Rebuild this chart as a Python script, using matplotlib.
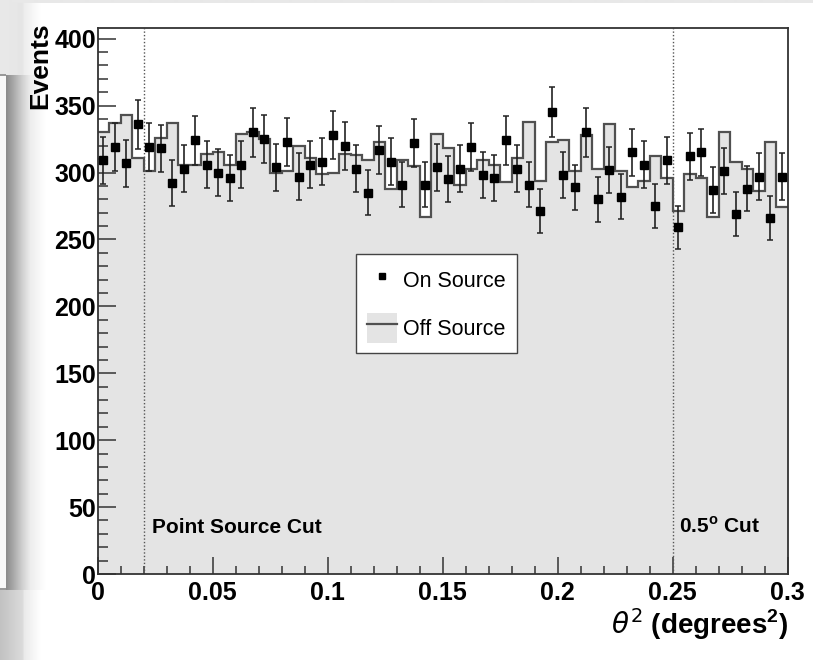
import numpy as np
import matplotlib
matplotlib.use("Agg")
import matplotlib.pyplot as plt
from matplotlib.lines import Line2D
from matplotlib.patches import Patch
from matplotlib.ticker import MultipleLocator, FixedLocator, FixedFormatter

plt.rcParams['font.family'] = ['Liberation Sans', 'DejaVu Sans']
plt.rcParams['mathtext.fontset'] = 'dejavusans'

# ---- data -------------------------------------------------------------
theta2_min = 0.0
theta2_max = 0.3
n_bins = 60

on_counts = [
    309, 319, 307, 336, 319, 318, 292, 303, 324, 306,
    300, 296, 306, 330, 325, 304, 323, 297, 306, 308,
    328, 320, 303, 285, 317, 308, 291, 322, 291, 304,
    295, 303, 319, 298, 296, 324, 303, 291, 271, 345,
    298, 289, 330, 280, 302, 282, 315, 306, 275, 309,
    259, 312, 315, 287, 301, 269, 288, 297, 266, 297,
]

off_counts = [
    330, 337, 343, 311, 301, 326, 337, 306, 306, 314,
    315, 306, 329, 330, 325, 300, 301, 320, 311, 299,
    300, 314, 313, 309, 323, 288, 309, 305, 267, 329,
    318, 291, 303, 309, 306, 293, 311, 338, 294, 323,
    324, 301, 328, 303, 336, 301, 289, 294, 312, 296,
    271, 299, 296, 267, 330, 308, 303, 286, 323, 274,
]

cut_positions = [0.02, 0.25]
cut_labels = ["Point Source Cut", "0.5$^{\\mathregular{o}}$ Cut"]

x_tick_values = [0, 0.05, 0.1, 0.15, 0.2, 0.25, 0.3]
x_tick_labels = ["0", "0.05", "0.1", "0.15", "0.2", "0.25", "0.3"]
y_tick_values = [0, 50, 100, 150, 200, 250, 300, 350, 400]
y_tick_labels = ["0", "50", "100", "150", "200", "250", "300", "350", "400"]

# ---- figure -----------------------------------------------------------
W, H = 813, 660
fig = plt.figure(figsize=(W / 100, H / 100), dpi=100)

# page background with the drop shadow along the left edge
bg = fig.add_axes([0, 0, 1, 1], zorder=-10)
bg.axis('off')
img = np.ones((H, W))
xs = np.arange(60)
mid = np.interp(xs, [0, 5.9, 6, 14, 22, 30, 45, 59], [0.97, 0.97, 0.55, 0.68, 0.82, 0.93, 1.0, 1.0])
top = np.interp(xs, [0, 22, 24, 40, 59], [0.91, 0.90, 0.93, 1.0, 1.0])
bot = np.interp(xs, [0, 22, 24, 40, 59], [0.76, 0.86, 0.92, 1.0, 1.0])
img[:75, :60] = top
img[75:590, :60] = mid
img[590:, :60] = bot
img[74:76, :6] = 0.6
img[588:590, :6] = 0.6
img[:3, :] = 0.91
bg.imshow(img, cmap='gray', vmin=0, vmax=1, extent=(0, W, H, 0), aspect='auto',
          interpolation='bilinear')
bg.set_xlim(0, W)
bg.set_ylim(H, 0)

ax = fig.add_axes([97.5 / W, 1 - 574 / H, 690 / W, 546 / H])
ax.set_xlim(theta2_min, theta2_max)
ax.set_ylim(0, 408)

edges = np.linspace(theta2_min, theta2_max, n_bins + 1)
centers = 0.5 * (edges[:-1] + edges[1:])
on = np.asarray(on_counts, dtype=float)
off = np.asarray(off_counts, dtype=float)

# off-source histogram: filled area plus outline
ax.stairs(off, edges, baseline=0, fill=True, color='#e4e4e4', zorder=1)
ax.stairs(off, edges, baseline=None, color='#505050', lw=1.6, zorder=2)

# analysis cuts
for xc in cut_positions:
    ax.axvline(xc, color='#555555', lw=1.0, ls=(0, (1, 1.5)), zorder=2.5)

# on-source points with Poisson errors
ax.errorbar(centers, on, yerr=np.sqrt(on), fmt='s', color='black', ms=6,
            ecolor='#222222', elinewidth=1.2, capsize=2.5, capthick=1.1, zorder=3)

ax.text(0.0236, 31, cut_labels[0], fontsize=15, fontweight='bold', ha='left',
        va='baseline', zorder=4)
ax.text(0.253, 31, cut_labels[1], fontsize=15, fontweight='bold', ha='left',
        va='baseline', zorder=4)

# ticks
ax.xaxis.set_major_locator(FixedLocator(x_tick_values))
ax.xaxis.set_major_formatter(FixedFormatter(x_tick_labels))
ax.xaxis.set_minor_locator(MultipleLocator(0.01))
ax.yaxis.set_major_locator(FixedLocator(y_tick_values))
ax.yaxis.set_major_formatter(FixedFormatter(y_tick_labels))
ax.yaxis.set_minor_locator(MultipleLocator(10))
ax.tick_params(axis='x', which='major', direction='in', length=12, width=1.1,
               color='#333333', labelsize=18, pad=5, top=False)
ax.tick_params(axis='x', which='minor', direction='in', length=6, width=1.1,
               color='#333333', top=False)
ax.tick_params(axis='y', which='major', direction='in', length=13, width=1.1,
               color='#333333', labelsize=18, pad=1, right=False)
ax.tick_params(axis='y', which='minor', direction='in', length=7, width=1.1,
               color='#333333', right=False)
for lab in ax.get_xticklabels() + ax.get_yticklabels():
    lab.set_fontweight('bold')
for sp in ax.spines.values():
    sp.set_color('#333333')
    sp.set_linewidth(1.3)

# axis titles
fig.text(40.5 / W, 1 - 22 / H, "Events", rotation=90, ha='center', va='top',
         fontsize=19, fontweight='bold')
fig.text(788 / W, 1 - 634 / H, "$\\theta^{2}$ (degrees$^{\\mathregular{2}}$)", ha='right',
         va='baseline', fontsize=20, fontweight='bold')

# legend
handles = [
    Line2D([], [], marker='s', color='black', ls='none', ms=5),
    (Patch(facecolor='#e4e4e4', edgecolor='none'), Line2D([], [], color='#505050', lw=1.6)),
]
leg = ax.legend(handles, ["On Source", "Off Source"], loc='upper left',
                bbox_to_anchor=(356 / W, 1 - 254 / H), bbox_transform=fig.transFigure,
                borderaxespad=0, fontsize=15.5, handlelength=1.4, handleheight=1.75,
                handletextpad=0.3, labelspacing=0.85, borderpad=0.5,
                fancybox=False, framealpha=1, edgecolor='#444444')
leg.get_frame().set_linewidth(1.0)

fig.savefig("out.png", dpi=100)
